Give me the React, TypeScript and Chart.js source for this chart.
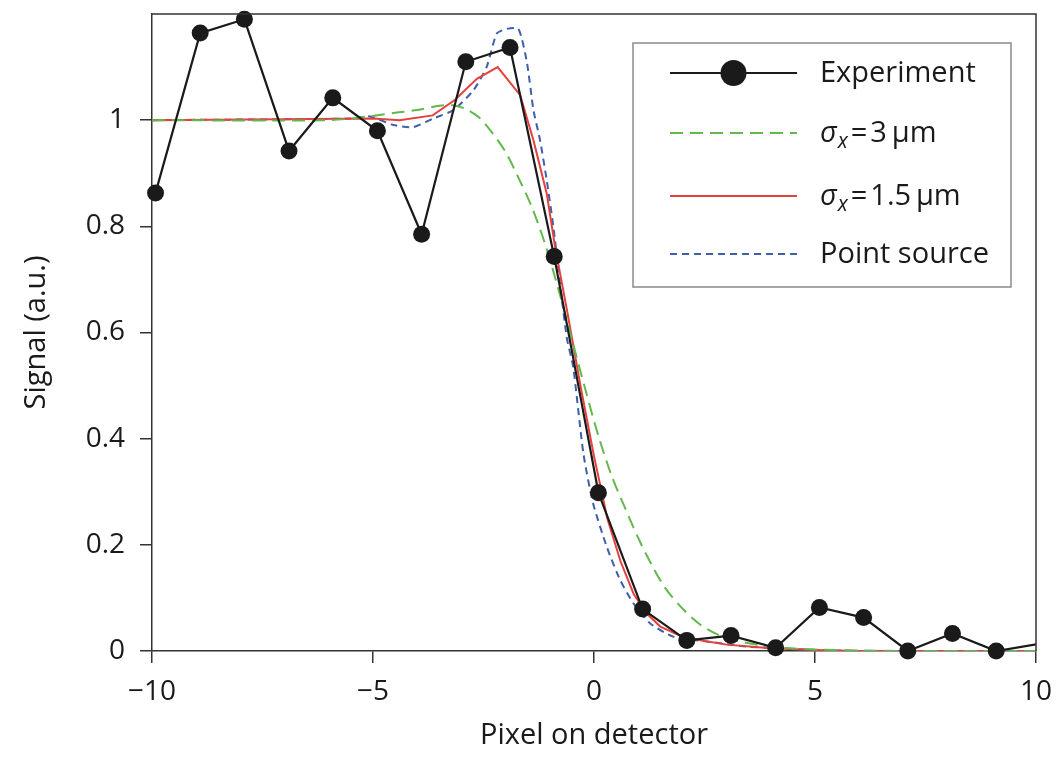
import React, { useEffect, useRef } from "react";
import { Chart, registerables } from "chart.js";

Chart.register(...registerables);

const FONT = '"Open Sans", "Noto Sans", "DejaVu Sans", sans-serif';

// Experiment (black dots)
const expX = [-9.92, -8.91, -7.91, -6.9, -5.91, -4.9, -3.9, -2.9, -1.9, -0.9, 0.1, 1.1, 2.1, 3.1, 4.11, 5.1, 6.1, 7.1, 8.11, 9.1, 10.1];
const expY = [0.863, 1.164, 1.19, 0.942, 1.042, 0.98, 0.785, 1.11, 1.137, 0.743, 0.298, 0.079, 0.02, 0.029, 0.006, 0.082, 0.063, 0.0, 0.033, 0.0, 0.014];

// sigma_x = 3 um (green dashed)
const s3X = [-10, -6, -5, -4.5, -4, -3.5, -3.2, -2.9, -2.6, -2.3, -2, -1.7, -1.4, -1.1, -0.8, -0.5, -0.2, 0.1, 0.4, 0.7, 1.0, 1.3, 1.6, 2.0, 2.4, 2.8, 3.2, 4, 5, 6, 7, 8, 9, 10];
const s3Y = [1, 1.0, 1.008, 1.014, 1.019, 1.027, 1.028, 1.021, 1.005, 0.976, 0.94, 0.89, 0.835, 0.765, 0.68, 0.587, 0.494, 0.405, 0.33, 0.27, 0.213, 0.163, 0.12, 0.08, 0.05, 0.031, 0.02, 0.008, 0.003, 0.001, 0, 0, 0, 0];

// sigma_x = 1.5 um (red solid)
const s15X = [-10, -5, -4.4, -3.65, -3.15, -2.65, -2.18, -1.67, -1.37, -1.07, -0.88, -0.6, -0.3, 0, 0.3, 0.6, 0.9, 1.2, 1.5, 2, 2.5, 3, 4, 5, 6, 7, 8, 9, 10];
const s15Y = [1, 1.003, 1.0, 1.009, 1.038, 1.078, 1.1, 1.047, 0.962, 0.862, 0.761, 0.637, 0.497, 0.367, 0.25, 0.169, 0.107, 0.07, 0.046, 0.027, 0.019, 0.012, 0.005, 0.002, 0, 0, 0, 0, 0];

// Point source (blue dotted)
const psX = [-10, -5.5, -5.07, -4.54, -4.09, -3.64, -3.18, -2.73, -2.43, -2.2, -1.97, -1.71, -1.52, -1.37, -1.22, -1.07, -0.92, -0.62, -0.47, -0.24, -0.02, 0.29, 0.59, 0.89, 1.27, 1.79, 2.55, 3.5, 5, 6, 7, 8, 9, 10];
const psY = [1, 1.003, 1.007, 0.991, 0.987, 1.003, 1.019, 1.056, 1.1, 1.163, 1.172, 1.172, 1.11, 1.019, 0.962, 0.887, 0.8, 0.592, 0.535, 0.372, 0.278, 0.196, 0.134, 0.09, 0.052, 0.027, 0.018, 0.008, 0.002, 0, 0, 0, 0, 0];

const xTicks = [-10, -5, 0, 5, 10];
const yTicks = [0, 0.2, 0.4, 0.6, 0.8, 1];

const legendEntries = [
  { text: "Experiment" },
  { sym: "σ", sub: "x", rest: "\u200A=\u200A3\u2009µm" },
  { sym: "σ", sub: "x", rest: "\u200A=\u200A1.5\u2009µm" },
  { text: "Point source" },
];

const toPts = (xs: number[], ys: number[]) => xs.map((x, i) => ({ x, y: ys[i] }));

const framePlugin = {
  id: "frame",
  afterDatasetsDraw(chart: any) {
    const { ctx, chartArea: ca } = chart;
    ctx.save();
    ctx.strokeStyle = "#333";
    ctx.lineWidth = 1.5;
    ctx.beginPath();
    ctx.moveTo(ca.left, ca.top);
    ctx.lineTo(ca.right, ca.top);
    ctx.lineTo(ca.right, ca.bottom);
    ctx.stroke();
    ctx.restore();
  },
};

const legendPlugin = {
  id: "customLegend",
  afterDraw(chart: any) {
    const { ctx, chartArea: ca } = chart;
    const bx = ca.right - 403;
    const by = ca.top + 29;
    const bw = 378;
    const bh = 244;
    ctx.save();
    ctx.fillStyle = "#fff";
    ctx.fillRect(bx, by, bw, bh);
    ctx.strokeStyle = "#8a8a8a";
    ctx.lineWidth = 1.5;
    ctx.strokeRect(bx, by, bw, bh);
    const rowY = [30, 90, 153, 211];
    const x0 = bx + 37;
    const x1 = bx + 164;
    const tx = bx + 187;
    legendEntries.forEach((e: any, i: number) => {
      const ds = chart.data.datasets[i];
      const y = by + rowY[i];
      ctx.save();
      ctx.strokeStyle = ds.borderColor;
      ctx.lineWidth = ds.borderWidth;
      ctx.setLineDash(ds.borderDash || []);
      ctx.beginPath();
      ctx.moveTo(x0, y);
      ctx.lineTo(x1, y);
      ctx.stroke();
      ctx.restore();
      if (i === 0) {
        ctx.fillStyle = ds.pointBackgroundColor;
        ctx.beginPath();
        ctx.arc((x0 + x1) / 2, y, 13, 0, Math.PI * 2);
        ctx.fill();
      }
      ctx.fillStyle = "#1a1a1a";
      ctx.textBaseline = "middle";
      ctx.textAlign = "left";
      if (e.text) {
        ctx.font = `29px ${FONT}`;
        ctx.fillText(e.text, tx, y + 1);
      } else {
        ctx.font = `italic 29px ${FONT}`;
        ctx.fillText(e.sym, tx, y + 1);
        let w = ctx.measureText(e.sym).width;
        ctx.font = `italic 21px ${FONT}`;
        ctx.fillText(e.sub, tx + w + 1, y + 9);
        w += ctx.measureText(e.sub).width + 1;
        ctx.font = `29px ${FONT}`;
        ctx.fillText(e.rest, tx + w, y + 1);
      }
    });
    ctx.restore();
  },
};

export default function App() {
  const ref = useRef<HTMLCanvasElement | null>(null);
  useEffect(() => {
    if (!ref.current) return;
    const chart = new Chart(ref.current, {
      type: "line",
      data: {
        datasets: [
          {
            label: "Experiment",
            data: toPts(expX, expY),
            borderColor: "#1a1a1a",
            backgroundColor: "#1a1a1a",
            pointBackgroundColor: "#1a1a1a",
            pointBorderColor: "#1a1a1a",
            borderWidth: 2.2,
            pointRadius: (c: any) => (c.raw && c.raw.x > 10 ? 0 : 8.5),
            pointBorderWidth: 0,
            tension: 0,
            clip: { left: 12, top: 12, right: 0, bottom: 12 } as any,
          },
          {
            label: "σx = 3 µm",
            data: toPts(s3X, s3Y),
            borderColor: "#63b84d",
            borderWidth: 2,
            borderDash: [13, 7],
            pointRadius: 0,
            tension: 0.3,
          },
          {
            label: "σx = 1.5 µm",
            data: toPts(s15X, s15Y),
            borderColor: "#e5413f",
            borderWidth: 2,
            pointRadius: 0,
            tension: 0,
          },
          {
            label: "Point source",
            data: toPts(psX, psY),
            borderColor: "#3e60a8",
            borderWidth: 2,
            borderDash: [7, 5],
            pointRadius: 0,
            tension: 0.2,
          },
        ],
      },
      options: {
        responsive: false,
        animation: false,
        layout: { padding: { top: 14, right: 22, left: 0, bottom: 0 } },
        plugins: { legend: { display: false }, tooltip: { enabled: false } },
        scales: {
          x: {
            type: "linear",
            min: -10,
            max: 10,
            afterBuildTicks: (s: any) => {
              s.ticks = xTicks.map((v) => ({ value: v }));
            },
            afterFit: (s: any) => {
              s.height = 110;
              s.paddingLeft = 0;
              s.paddingRight = 0;
            },
            grid: { display: true, drawOnChartArea: false, drawTicks: true, tickLength: 12, color: "#333", lineWidth: 1.5 },
            border: { display: true, color: "#333", width: 1.5 },
            ticks: {
              padding: 12,
              maxRotation: 0,
              color: "#1a1a1a",
              font: { family: FONT, size: 28 },
              callback: (v: any) => String(v).replace("-", "\u2212"),
            },
            title: {
              display: true,
              text: "Pixel on detector",
              color: "#1a1a1a",
              font: { family: FONT, size: 29 },
              padding: { top: 0, bottom: 8 },
            },
          },
          y: {
            type: "linear",
            min: 0,
            max: 1.2,
            afterBuildTicks: (s: any) => {
              s.ticks = yTicks.map((v) => ({ value: v }));
            },
            afterFit: (s: any) => {
              s.width = 152;
              s.paddingTop = 0;
              s.paddingBottom = 0;
            },
            grid: { display: true, drawOnChartArea: false, drawTicks: true, tickLength: 12, color: "#333", lineWidth: 1.5 },
            border: { display: true, color: "#333", width: 1.5 },
            ticks: {
              padding: 15,
              color: "#1a1a1a",
              font: { family: FONT, size: 28 },
              callback: (v: any) => String(+Number(v).toFixed(1)),
            },
            title: {
              display: true,
              text: "Signal (a.u.)",
              color: "#1a1a1a",
              font: { family: FONT, size: 29 },
              padding: { top: 19, bottom: 0 },
            },
          },
        },
      },
      plugins: [framePlugin, legendPlugin],
    } as any);
    return () => chart.destroy();
  }, []);
  return (
    <div style={{ position: "absolute", left: 0, top: 0, width: 1058, height: 761, background: "#fff" }}>
      <canvas ref={ref} width={1058} height={761} />
    </div>
  );
}
